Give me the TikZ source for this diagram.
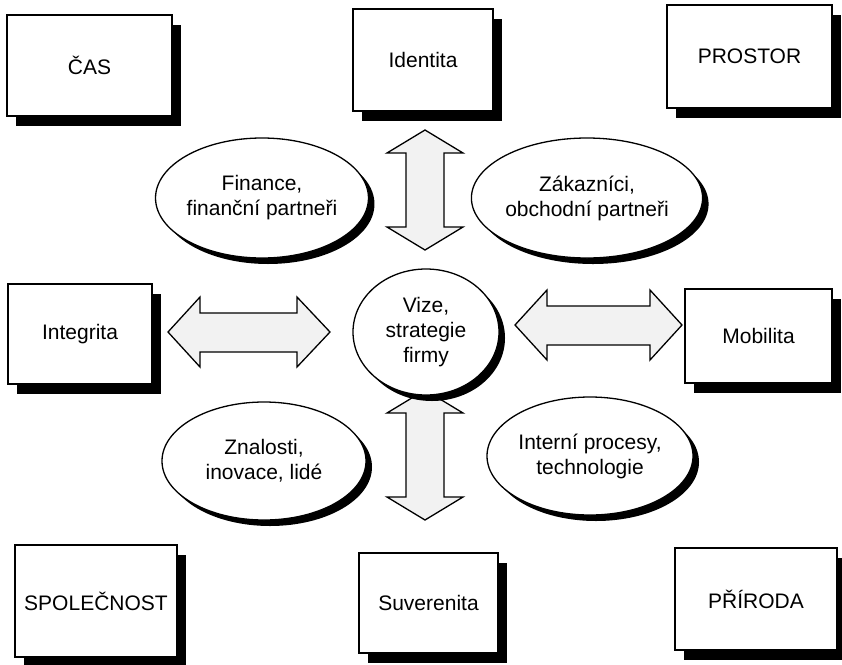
\documentclass[tikz,border=0pt]{standalone}
\usepackage{fontspec}
\setmainfont{Liberation Sans}
\usetikzlibrary{shadows,shapes.geometric}
\begin{document}
\begin{tikzpicture}[x=1pt,y=-1pt,
  every node/.style={font=\fontsize{21}{25}\selectfont, align=center},
  frame/.style={draw, line width=1.3pt, fill=white, inner sep=0pt,
    drop shadow={shadow xshift=9pt, shadow yshift=-10pt, fill=black, opacity=1}},
  oval/.style={draw, ellipse, line width=1.3pt, fill=white, inner sep=0pt,
    drop shadow={shadow xshift=6pt, shadow yshift=-6pt, fill=black, opacity=1}},
  blockarrow/.style={draw, line width=1.3pt, fill=gray!10, line join=miter}]
\useasboundingbox (0,0) rectangle (842,664);

% corner and side boxes
\node[frame, minimum width=165pt, minimum height=101pt] (cas)  at (89.5,65.5) {ČAS};
\node[frame, minimum width=140pt, minimum height=102pt] (ident) at (423,60) {Identita};
\node[frame, minimum width=165pt, minimum height=103pt] (prostor) at (749.5,56.5) {PROSTOR};
\node[frame, minimum width=144pt, minimum height=100pt] (integ) at (80,334) {Integrita};
\node[frame, minimum width=147pt, minimum height=94pt] (mobil) at (758.5,336) {Mobilita};
\node[frame, minimum width=162pt, minimum height=112pt] (spol) at (96,601) {SPOLEČNOST};
\node[frame, minimum width=139pt, minimum height=100pt] (suver) at (428.5,603) {Suverenita};
\node[frame, minimum width=162pt, minimum height=102pt] (prir) at (756,599) {PŘÍRODA};

% double block arrows
\draw[blockarrow] (425,130) -- (463,153) -- (444,153) -- (444,227) -- (463,227)
  -- (425,250) -- (387,227) -- (406,227) -- (406,153) -- (387,153) -- cycle;
\draw[blockarrow] (425,390) -- (463,413) -- (444,413) -- (444,497) -- (463,497)
  -- (425,520) -- (387,497) -- (406,497) -- (406,413) -- (387,413) -- cycle;
\draw[blockarrow] (168,332) -- (200,297) -- (200,313) -- (297,313) -- (297,297)
  -- (330,332) -- (297,367) -- (297,352) -- (200,352) -- (200,367) -- cycle;
\draw[blockarrow] (515,325) -- (547,290) -- (547,306) -- (650,306) -- (650,290)
  -- (682,325) -- (650,360) -- (650,345) -- (547,345) -- (547,360) -- cycle;

% ovals
\node[oval, minimum width=206pt, minimum height=120pt] (fin) at (262,198) {Finance,\\finanční partneři};
\node[oval, minimum width=208pt, minimum height=120pt] (zak) at (587,198) {Zákazníci,\\obchodní partneři};
\node[oval, minimum width=146pt, minimum height=126pt] (vize) at (426,332) {Vize,\\strategie\\firmy};
\node[oval, minimum width=204pt, minimum height=118pt] (znal) at (264,461) {Znalosti,\\inovace, lidé};
\node[oval, minimum width=206pt, minimum height=118pt] (proc) at (590,456) {Interní procesy,\\technologie};
\end{tikzpicture}
\end{document}
